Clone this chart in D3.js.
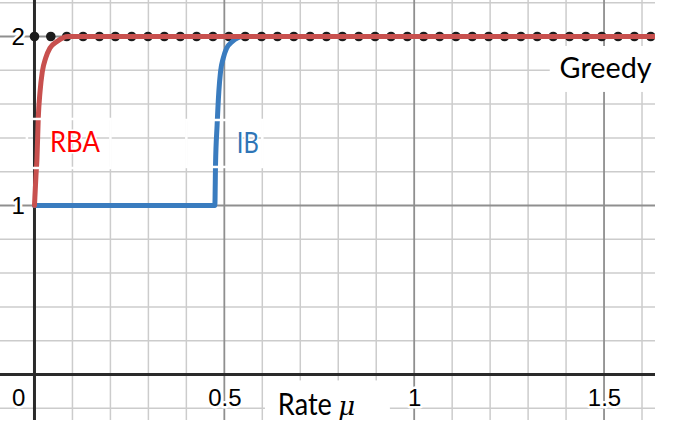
<!DOCTYPE html>
<html>
<head>
<meta charset="utf-8">
<script src="https://cdn.jsdelivr.net/npm/d3@7"></script>
<style>
  html, body { margin: 0; padding: 0; background: #fff; }
  svg { display: block; }
</style>
</head>
<body>
<svg id="chart" width="680" height="443"></svg>
<script>
// ---------------- data ----------------
// RBA curve (red): rate mu -> value
const rbaX = [0, 0.002, 0.004, 0.0066, 0.010, 0.0145, 0.0205, 0.0295, 0.0408, 0.0584, 0.088, 1.64];
const rbaY = [1, 1.09, 1.18, 1.28, 1.52, 1.67, 1.79, 1.873, 1.932, 1.969, 2, 2];
// IB curve (blue)
const ibX = [0, 0.475, 0.4768, 0.481, 0.4855, 0.490, 0.497, 0.506, 0.5205, 0.549, 1.64];
const ibY = [1, 1, 1.24, 1.476, 1.673, 1.792, 1.871, 1.930, 1.969, 2, 2];
// Greedy points (black dots)
const greedyX = [0, 0.043, 0.085, 0.128, 0.171, 0.213, 0.256, 0.299, 0.342, 0.384, 0.427, 0.470,
  0.512, 0.555, 0.598, 0.640, 0.683, 0.726, 0.769, 0.811, 0.854, 0.897, 0.939, 0.982, 1.025,
  1.067, 1.110, 1.153, 1.196, 1.238, 1.281, 1.324, 1.366, 1.409, 1.452, 1.494, 1.537, 1.580, 1.623];
const greedyY = greedyX.map(() => 2);
// ticks
const xTickLabels = [0, 0.5, 1, 1.5];
const yTickLabels = [1, 2];
const xMinor = [0.1, 0.2, 0.3, 0.4, 0.6, 0.7, 0.8, 0.9, 1.1, 1.2, 1.3, 1.4, 1.6];
const xMajor = [0.5, 1, 1.5];
const yMinor = [-0.2, 0.2, 0.4, 0.6, 0.8, 1.2, 1.4, 1.6, 1.8, 2.2];
const yMajor = [1, 2];

// ---------------- layout ----------------
const W = 655, H = 420;
const svg = d3.select("#chart");
const x = d3.scaleLinear().domain([-0.0908, 1.6342]).range([0, W]);
const y = d3.scaleLinear().domain([-0.2692, 2.216]).range([H, 0]);

svg.append("rect").attr("width", 680).attr("height", 443).attr("fill", "#fff");
svg.append("clipPath").attr("id", "plotclip")
  .append("rect").attr("x", 0).attr("y", 0).attr("width", W).attr("height", H);

const plot = svg.append("g").attr("clip-path", "url(#plotclip)");

// grid
const grid = plot.append("g");
grid.selectAll("line.xmin").data(xMinor).join("line")
  .attr("x1", d => x(d)).attr("x2", d => x(d)).attr("y1", 0).attr("y2", H)
  .attr("stroke", "#cccccc").attr("stroke-width", 1.5);
grid.selectAll("line.ymin").data(yMinor).join("line")
  .attr("y1", d => y(d)).attr("y2", d => y(d)).attr("x1", 0).attr("x2", W)
  .attr("stroke", "#cccccc").attr("stroke-width", 1.5);
grid.selectAll("line.xmaj").data(xMajor).join("line")
  .attr("x1", d => x(d)).attr("x2", d => x(d)).attr("y1", 0).attr("y2", H)
  .attr("stroke", "#8f8f8f").attr("stroke-width", 1.8);
grid.selectAll("line.ymaj").data(yMajor).join("line")
  .attr("y1", d => y(d)).attr("y2", d => y(d)).attr("x1", 0).attr("x2", W)
  .attr("stroke", "#8f8f8f").attr("stroke-width", 1.8);

// filled white label boxes (hide grid)
const fillBoxes = [
  { x0: 1.357, x1: 1.70, y0: 1.944, y1: 1.672 },   // Greedy
  { x0: 0.607, x1: 0.936, y0: -0.035, y1: -0.30 }  // axis title
];
plot.selectAll("rect.fbox").data(fillBoxes).join("rect")
  .attr("x", d => x(d.x0)).attr("y", d => y(d.y0))
  .attr("width", d => x(d.x1) - x(d.x0)).attr("height", d => y(d.y1) - y(d.y0))
  .attr("fill", "#fff");

// axes lines
plot.append("line").attr("x1", 0).attr("x2", W).attr("y1", y(0)).attr("y2", y(0))
  .attr("stroke", "#2a2a2a").attr("stroke-width", 3);
plot.append("line").attr("x1", x(0)).attr("x2", x(0)).attr("y1", 0).attr("y2", H)
  .attr("stroke", "#2a2a2a").attr("stroke-width", 3);

// greedy dots
plot.selectAll("circle.g").data(greedyX.map((d, i) => [d, greedyY[i]])).join("circle")
  .attr("cx", d => x(d[0])).attr("cy", d => y(d[1])).attr("r", 4.8)
  .attr("fill", "#1c1c1c");

const line = d3.line().x(d => x(d[0])).y(d => y(d[1])).curve(d3.curveMonotoneX);

plot.append("path").datum(ibX.map((d, i) => [d, ibY[i]]))
  .attr("d", line).attr("fill", "none").attr("stroke", "#3a7cbf")
  .attr("stroke-width", 5).attr("stroke-linejoin", "round").attr("stroke-linecap", "round");

plot.append("path").datum(rbaX.map((d, i) => [d, rbaY[i]]))
  .attr("d", line).attr("fill", "none").attr("stroke", "#c8504e")
  .attr("stroke-width", 5).attr("stroke-linejoin", "round").attr("stroke-linecap", "round");

// outline label boxes (white edges)
const outlineBoxes = [
  { x0: 0.4, x1: 0.6, y0: 1.506, y1: 1.228 },     // IB
  { x0: -0.02, x1: 0.2, y0: 1.512, y1: 1.222 }    // RBA
];
plot.selectAll("rect.obox").data(outlineBoxes).join("rect")
  .attr("x", d => x(d.x0)).attr("y", d => y(d.y0))
  .attr("width", d => x(d.x1) - x(d.x0)).attr("height", d => y(d.y1) - y(d.y0))
  .attr("fill", "none").attr("stroke", "#fff").attr("stroke-width", 2.5);

// ---------------- tick labels ----------------
function halo(sel) {
  sel.attr("paint-order", "stroke").attr("stroke", "#fff").attr("stroke-width", 5)
     .attr("stroke-linejoin", "round").attr("fill", "#000");
}
const xAxis = d3.axisBottom(x).tickValues(xTickLabels).tickSize(0).tickPadding(14.5)
  .tickFormat(d3.format("~g"));
const gx = svg.append("g").attr("transform", `translate(0,${y(0)})`).call(xAxis);
gx.select(".domain").remove();
gx.selectAll("text").attr("font-family", "'Liberation Sans', Arial, sans-serif")
  .attr("font-size", 24).call(halo);
gx.selectAll(".tick").filter(d => d === 0).select("text")
  .attr("text-anchor", "end").attr("x", -9.5);

const yAxis = d3.axisLeft(y).tickValues(yTickLabels).tickSize(0).tickPadding(9.5)
  .tickFormat(d3.format("~g"));
const gy = svg.append("g").attr("transform", `translate(${x(0)},0)`).call(yAxis);
gy.select(".domain").remove();
gy.selectAll("text").attr("font-family", "'Liberation Sans', Arial, sans-serif")
  .attr("font-size", 24).call(halo);

// ---------------- annotations ----------------
const labelFont = "Lato, 'Open Sans', sans-serif";
function label(txt, dx, dy, color, len, size) {
  svg.append("text").attr("x", x(dx)).attr("y", y(dy)).text(txt)
    .attr("font-family", labelFont).attr("font-size", size).attr("fill", color)
    .attr("textLength", len).attr("lengthAdjust", "spacingAndGlyphs")
    .attr("paint-order", "stroke").attr("stroke", "#fff").attr("stroke-width", 3)
    .attr("stroke-linejoin", "round");
}
label("RBA", 0.0408, 1.3166, "#ff0000", 50, 28);
label("IB", 0.533, 1.311, "#2e75b6", 22, 28);
label("Greedy", 1.383, 1.754, "#000000", 92, 28);

// axis title "Rate μ" as one text element
const title = svg.append("text").attr("x", x(0.641)).attr("y", y(-0.2396))
  .attr("font-family", labelFont).attr("font-size", 30).attr("fill", "#000");
title.append("tspan").text("Rate").attr("textLength", 54).attr("lengthAdjust", "spacingAndGlyphs");
title.append("tspan").attr("x", x(0.8)).text("μ")
  .attr("font-family", "'DejaVu Serif', 'Liberation Serif', serif")
  .attr("font-style", "italic").attr("font-size", 26);
</script>
</body>
</html>
